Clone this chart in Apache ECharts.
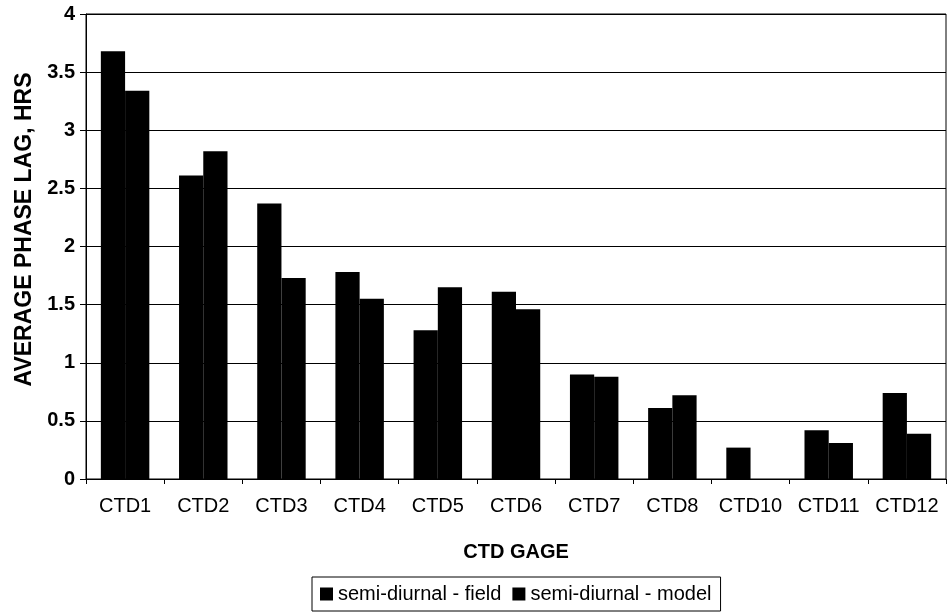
<!DOCTYPE html>
<html><head><meta charset="utf-8">
<script src="https://cdn.jsdelivr.net/npm/echarts@6/dist/echarts.min.js"></script>
<style>html,body{margin:0;padding:0;background:#fff}#c{width:948px;height:615px}</style>
</head><body><div id="c"></div>
<script>
var categories = ['CTD1','CTD2','CTD3','CTD4','CTD5','CTD6','CTD7','CTD8','CTD10','CTD11','CTD12'];
var fieldValues = [3.68, 2.61, 2.37, 1.78, 1.28, 1.61, 0.90, 0.61, 0.27, 0.42, 0.74];
var modelValues = [3.34, 2.82, 1.73, 1.55, 1.65, 1.46, 0.88, 0.72, null, 0.31, 0.39];
var seriesNames = ['semi-diurnal - field', 'semi-diurnal - model'];
var yTicks = [0, 0.5, 1, 1.5, 2, 2.5, 3, 3.5, 4];

var FONT = '"Liberation Sans", Arial, sans-serif';
var chart = echarts.init(document.getElementById('c'), null, {renderer: 'canvas'});
chart.setOption({
  animation: false,
  backgroundColor: '#fff',
  grid: {left: 86, right: 2, top: 14, bottom: 136, show: true, borderColor: '#000', borderWidth: 1},
  legend: {
    data: seriesNames,
    left: 312, top: 577,
    itemWidth: 13, itemHeight: 13, itemGap: 11,
    padding: [7, 9, 7, 8],
    borderColor: '#000', borderWidth: 1,
    icon: 'rect',
    textStyle: {fontFamily: FONT, fontSize: 20, color: '#000'}
  },
  xAxis: {
    type: 'category',
    data: categories,
    name: 'CTD GAGE',
    nameLocation: 'middle',
    nameGap: 63,
    nameTextStyle: {fontFamily: FONT, fontSize: 20, fontWeight: 'bold', color: '#000'},
    axisLine: {lineStyle: {color: '#000', width: 1}},
    axisTick: {show: true, length: 5, lineStyle: {color: '#000'}},
    axisLabel: {fontFamily: FONT, fontSize: 20, color: '#000', margin: 17, interval: 0}
  },
  yAxis: {
    type: 'value',
    min: 0, max: 4, interval: 0.5,
    name: 'AVERAGE PHASE LAG, HRS',
    nameLocation: 'middle',
    nameGap: 48,
    nameTextStyle: {fontFamily: FONT, fontSize: 23, fontWeight: 'bold', color: '#000', padding: [0, 0, 0, 34]},
    axisLine: {show: true, lineStyle: {color: '#000', width: 1}},
    axisTick: {show: true, length: 6, inside: false, lineStyle: {color: '#000'}},
    axisLabel: {fontFamily: FONT, fontSize: 20, fontWeight: 'bold', color: '#000', margin: 11,
      formatter: function (v) { return yTicks.indexOf(v) >= 0 ? String(v) : ''; }},
    splitLine: {show: true, lineStyle: {color: '#000', width: 1}}
  },
  series: [
    {name: seriesNames[0], type: 'bar', data: fieldValues, barGap: '0%', barCategoryGap: '38%',
     itemStyle: {color: '#000'}},
    {name: seriesNames[1], type: 'bar', data: modelValues, barGap: '0%', barCategoryGap: '38%',
     itemStyle: {color: '#000'}}
  ]
});
</script></body></html>
